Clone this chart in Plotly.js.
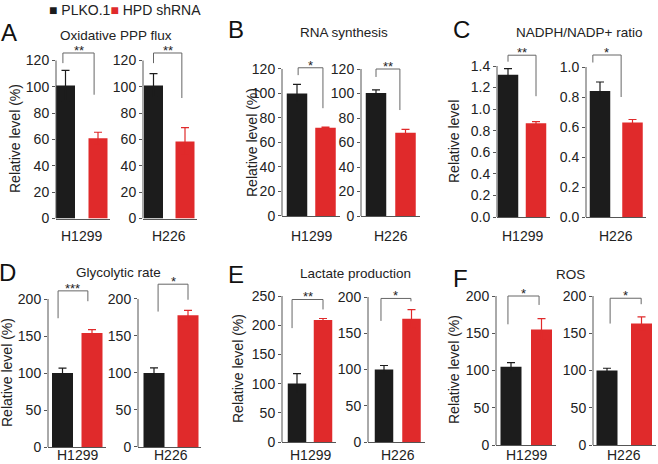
<!DOCTYPE html>
<html>
<head>
<meta charset="utf-8">
<script src="https://cdn.plot.ly/plotly-3.0.1.min.js"></script>
<style>
  html, body { margin: 0; padding: 0; background: #fff; }
  #chart { width: 658px; height: 464px; }
</style>
</head>
<body>
<div id="chart"></div>
<script>
// Six two-bar panels (A-F), each split into H1299 and H226 subplots.

const W = 658, H = 464;
const FONT = "Arial, 'Liberation Sans', sans-serif";
const BLACK = "#1c1c1c", RED = "#e02a2b", AXIS = "#555";

const conditions = ["PLKO.1", "HPD shRNA"];
const cellLines = ["H1299", "H226"];
const panelLetters = ["A", "B", "C", "D", "E", "F"];
const panelTitles = ["Oxidative PPP flux", "RNA synthesis", "NADPH/NADP+ ratio",
                     "Glycolytic rate", "Lactate production", "ROS"];
const panelYTitles = ["Relative level (%)", "Relative level (%)", "Relative level",
                      "Relative level (%)", "Relative level (%)", "Relative level (%)"];

// one entry per subplot: A-H1299, A-H226, B-H1299, ... F-H226  -> [PLKO.1, HPD shRNA]
const means = [[101, 61], [101, 58.5], [100, 72], [100.5, 68], [1.32, 0.87], [0.84, 0.63],
               [100, 154], [100, 178], [100, 209], [100, 170], [105, 155], [100, 163]];
const errs  = [[11.5, 4.5], [9, 10.5], [7.5, 0.5], [2.5, 2.7], [0.055, 0.015], [0.06, 0.02],
               [6.5, 4.5], [7, 6.5], [17, 2.5], [5.5, 12.5], [5.5, 14.5], [3, 9]];
const stars = ["**", "**", "*", "**", "**", "*", "***", "*", "**", "*", "*", "*"];
const tickTop  = [120, 120, 120, 120, 1.4, 1.0, 200, 200, 250, 200, 200, 200];
const tickStep = [20, 20, 20, 20, 0.2, 0.2, 50, 50, 50, 50, 50, 50];
// significance brackets, in data units: top, left leg end, right leg end
const bracketTop   = [125.7, 125.7, 121, 120, 1.50, 1.08, 211, 220, 244, 198, 200, 197];
const bracketLeft  = [118, 118, 115, 113.5, 1.44, 1.03, 174, 183, 195, 167, 162, 163];
const bracketRight = [94, 91.5, 88, 86.5, 1.12, 0.80, 197, 199, 227, 194, 188, 189];
const bracketX = [[-0.08, 0.88], [0, 0.9], [0.04, 0.91], [0, 0.81], [0, 1.0], [-0.22, 0.65],
                  [-0.15, 0.86], [0.12, 1.0], [-0.19, 1.0], [-0.11, 0.98], [-0.1, 0.92], [0.09, 0.99]];

// pixel geometry of each subplot
const axisX    = [56, 143, 282, 361, 497, 586, 48, 138, 282, 368, 496, 593];
const blackC   = [65.5, 153.5, 297, 376, 508, 600, 62.5, 154, 297, 384, 511, 607];
const redC     = [98, 185, 325.5, 405.5, 536, 632.5, 92, 188, 323, 411.5, 541.5, 641.5];
const endX     = [110, 197, 340, 420, 550, 646, 106, 201, 336, 425, 556, 656];
const baseY    = [218.5, 218.5, 216, 216, 217, 217, 447, 447, 442, 442, 445, 445];
const topTickY = [60.5, 60.5, 69, 69, 66, 67, 299, 299, 296, 297, 296, 296];
const barPx    = [19, 19, 20.5, 20.5, 20.5, 20.5, 21, 21, 18.5, 18.5, 21, 21];
const cellLabelY = [236, 455];

const letterPos = [[9, 33], [236, 29], [461, 29], [7, 272], [236, 274], [460, 278]];
const titlePos  = [[116, 35], [344, 32], [579, 33], [118, 272], [355, 273], [570, 274]];
const yTitlePos = [[15, 139], [252, 143], [454, 142], [7, 373], [238, 369], [454, 370]];

const data = [];
const layout = {
  width: W, height: H,
  margin: { l: 0, r: 0, t: 0, b: 0 },
  paper_bgcolor: "#fff", plot_bgcolor: "rgba(0,0,0,0)",
  font: { family: FONT, size: 13, color: "#222" },
  showlegend: false, barmode: "overlay",
  shapes: [], annotations: [],
};

means.forEach((m, i) => {
  const n = i === 0 ? "" : String(i + 1);
  const xa = "x" + n, ya = "y" + n;
  const sp = redC[i] - blackC[i];
  const top = Math.max(bracketTop[i], tickTop[i]) * 1.04;
  const pxPerUnit = (baseY[i] - topTickY[i]) / tickTop[i];
  const topPx = baseY[i] - top * pxPerUnit;
  const row = i < 6 ? 0 : 1;

  layout["xaxis" + n] = {
    domain: [axisX[i] / W, endX[i] / W],
    range: [(axisX[i] - blackC[i]) / sp, (endX[i] - blackC[i]) / sp],
    anchor: ya, showline: true, linecolor: AXIS, linewidth: 1,
    showgrid: false, zeroline: false, ticks: "", showticklabels: false,
    fixedrange: true,
  };
  layout["yaxis" + n] = {
    domain: [1 - baseY[i] / H, 1 - topPx / H],
    range: [0, top], anchor: xa,
    showline: false, showgrid: false, zeroline: false,
    ticks: "outside", ticklen: 3, tickwidth: 1, tickcolor: AXIS,
    tickmode: "linear", tick0: 0, dtick: tickStep[i],
    tickformat: tickTop[i] < 10 ? ".1f" : "d",
    tickfont: { size: 14, color: "#222" }, fixedrange: true,
  };

  [0, 1].forEach(k => {
    const col = k === 0 ? BLACK : RED;
    data.push({
      type: "bar", name: conditions[k], x: [k], y: [m[k]],
      xaxis: xa, yaxis: ya, width: barPx[i] / sp,
      marker: { color: col, line: { width: 0 } },
      error_y: { type: "data", array: [errs[i][k]], visible: true,
                 color: col, thickness: 1.2, width: 4 },
      hoverinfo: "skip",
    });
  });

  // y-axis line only up to the top tick
  layout.shapes.push({
    type: "line", xref: xa + " domain", yref: ya,
    x0: 0, x1: 0, y0: 0, y1: tickTop[i],
    line: { color: AXIS, width: 1 },
  });

  const [bx0, bx1] = bracketX[i];
  layout.shapes.push({
    type: "path", xref: xa, yref: ya,
    path: `M ${bx0},${bracketLeft[i]} L ${bx0},${bracketTop[i]} L ${bx1},${bracketTop[i]} L ${bx1},${bracketRight[i]}`,
    line: { color: "#666", width: 1 },
  });
  layout.annotations.push({
    xref: xa, yref: ya, x: (bx0 + bx1) / 2, y: bracketTop[i],
    text: stars[i], showarrow: false, yanchor: "bottom", yshift: -7,
    font: { size: 13, color: "#222" },
  });

  // cell line label under each pair of bars
  layout.annotations.push({
    xref: xa, yref: "paper", x: 0.5, y: 1 - cellLabelY[row] / H,
    text: cellLines[i % 2], showarrow: false, xanchor: "center", yanchor: "middle",
    font: { size: 14, color: "#222" },
  });
});

panelLetters.forEach((L, p) => {
  layout.annotations.push({
    xref: "paper", yref: "paper", x: letterPos[p][0] / W, y: 1 - letterPos[p][1] / H,
    text: L, showarrow: false, xanchor: "center", yanchor: "middle",
    font: { size: 24, color: "#111" },
  });
  layout.annotations.push({
    xref: "paper", yref: "paper", x: titlePos[p][0] / W, y: 1 - titlePos[p][1] / H,
    text: panelTitles[p], showarrow: false, xanchor: "center", yanchor: "middle",
    font: { size: 13.5, color: "#222" },
  });
  layout.annotations.push({
    xref: "paper", yref: "paper", x: yTitlePos[p][0] / W, y: 1 - yTitlePos[p][1] / H,
    text: panelYTitles[p], showarrow: false, textangle: -90,
    xanchor: "center", yanchor: "middle",
    font: { size: 14, color: "#222" },
  });
});

// legend row
layout.annotations.push({
  xref: "paper", yref: "paper", x: 47 / W, y: 1 - 10 / H,
  xanchor: "left", yanchor: "middle", showarrow: false,
  text: `<span style="color:${BLACK}">■</span> ${conditions[0]}` +
        `<span style="color:${RED}">■</span> ${conditions[1]}`,
  font: { size: 14, color: "#222" },
});

Plotly.newPlot("chart", data, layout, { displayModeBar: false, staticPlot: true });
</script>
</body>
</html>
